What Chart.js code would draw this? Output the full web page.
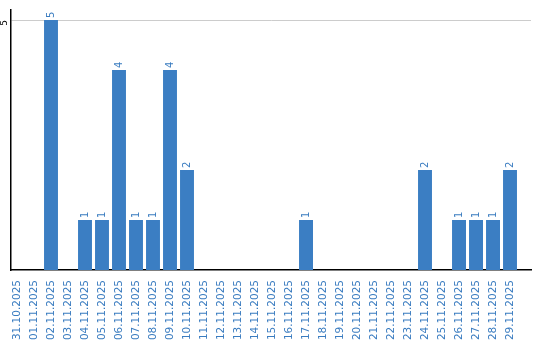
<!DOCTYPE html>
<html>
<head>
<meta charset="utf-8">
<script src="https://cdn.jsdelivr.net/npm/chart.js@4/dist/chart.umd.min.js"></script>
<style>
html,body{margin:0;padding:0;background:#fff;}
#wrap{width:540px;height:340px;position:relative;}
</style>
</head>
<body>
<div id="wrap"><canvas id="c" width="540" height="340"></canvas></div>
<script>
const categories = ["31.10.2025","01.11.2025","02.11.2025","03.11.2025","04.11.2025","05.11.2025","06.11.2025","07.11.2025","08.11.2025","09.11.2025","10.11.2025","11.11.2025","12.11.2025","13.11.2025","14.11.2025","15.11.2025","16.11.2025","17.11.2025","18.11.2025","19.11.2025","20.11.2025","21.11.2025","22.11.2025","23.11.2025","24.11.2025","25.11.2025","26.11.2025","27.11.2025","28.11.2025","29.11.2025"];
const values = [0,0,5,0,1,1,4,1,1,4,2,0,0,0,0,0,0,1,0,0,0,0,0,0,2,0,1,1,1,2];
const yTicks = [5];

const barColor = '#3b7ec3';
const textColor = '#3a7cc0';
const fontFamily = '"DejaVu Sans", Verdana, sans-serif';

const points = values.map((v, i) => ({ x: i, y: v }));

const valueLabels = {
  id: 'valueLabels',
  afterDatasetsDraw(chart) {
    const ctx = chart.ctx;
    const meta = chart.getDatasetMeta(0);
    ctx.save();
    ctx.fillStyle = textColor;
    ctx.font = '10px ' + fontFamily;
    ctx.textAlign = 'left';
    ctx.textBaseline = 'middle';
    meta.data.forEach((bar, i) => {
      const v = values[i];
      if (!v) return;
      ctx.save();
      ctx.translate(bar.x, bar.y - 2);
      ctx.rotate(-Math.PI / 2);
      ctx.fillText(String(v), 0, 0);
      ctx.restore();
    });
    // rotated y tick labels
    const ys = chart.scales.y;
    ctx.fillStyle = '#000';
    ctx.font = '9px ' + fontFamily;
    ctx.textAlign = 'center';
    ctx.textBaseline = 'middle';
    yTicks.forEach(t => {
      ctx.save();
      ctx.translate(5, ys.getPixelForValue(t) + 3);
      ctx.rotate(-Math.PI / 2);
      ctx.fillText(String(t), 0, 0);
      ctx.restore();
    });
    ctx.restore();
  }
};

new Chart(document.getElementById('c'), {
  type: 'bar',
  data: {
    datasets: [{
      data: points,
      backgroundColor: barColor,
      barPercentage: 0.82,
      categoryPercentage: 1.0
    }]
  },
  options: {
    responsive: false,
    animation: false,
    layout: { padding: { top: 10, right: 9, left: 0, bottom: 0 } },
    plugins: { legend: { display: false }, tooltip: { enabled: false } },
    scales: {
      x: {
        type: 'linear',
        offset: false,
        min: -0.353,
        max: 30.235,
        afterBuildTicks(scale) { scale.ticks = categories.map((c, i) => ({ value: i })); },
        afterFit(scale) { scale.height = 70; },
        grid: { display: false },
        border: { color: '#000', width: 1.5 },
        ticks: {
          color: textColor,
          font: { family: fontFamily, size: 10.5 },
          minRotation: 90, maxRotation: 90,
          autoSkip: false,
          padding: 2,
          callback: (v) => categories[v] !== undefined ? categories[v] : ''
        }
      },
      y: {
        min: 0,
        max: 5.2,
        afterBuildTicks(scale) { scale.ticks = yTicks.map(v => ({ value: v })); },
        afterFit(scale) { scale.width = 11; },
        grid: { color: '#cccccc', drawTicks: false, lineWidth: 1 },
        border: { color: '#000', width: 1.5 },
        ticks: { display: false }
      }
    }
  },
  plugins: [valueLabels]
});
</script>
</body>
</html>
